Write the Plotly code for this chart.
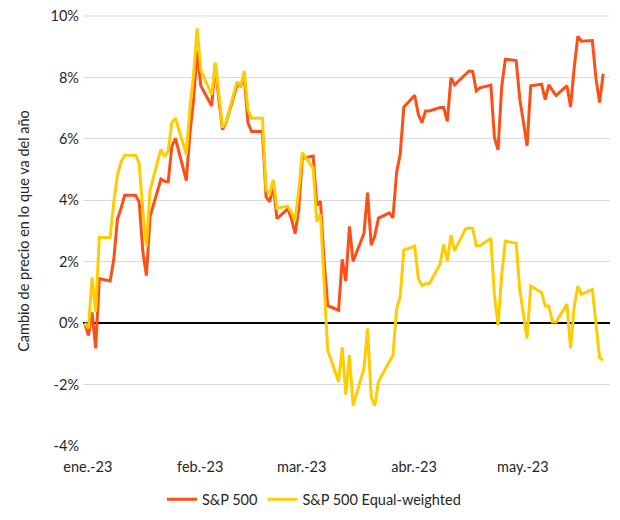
import pandas as pd
import plotly.graph_objects as go

# Weekday dates (holidays carried at previous value in the source series)
dates = pd.bdate_range("2023-01-02", "2023-05-25")

sp500 = [
    # Jan
    0.00, -0.40, 0.35, -0.82, 1.45, 1.37, 2.08, 3.39, 3.74, 4.16, 4.16,
    3.94, 2.33, 1.55, 3.47, 4.69, 4.62, 4.60, 5.75, 6.02, 4.64, 6.18,
    # Feb
    7.28, 8.86, 7.73, 7.07, 8.45, 7.25, 6.30, 6.54, 7.75, 7.72, 8.02,
    6.53, 6.24, 6.24, 4.11, 3.95, 4.50, 3.40, 3.72, 3.40,
    # Mar
    2.91, 3.69, 5.37, 5.44, 3.83, 3.97, 2.05, 0.57, 0.42, 2.08, 1.37,
    3.15, 2.01, 2.92, 4.25, 2.54, 2.84, 3.42, 3.59, 3.43, 4.90, 5.50, 7.03,
    # Apr
    7.42, 6.80, 6.53, 6.91, 6.91, 7.02, 7.02, 6.57, 7.99, 7.76, 8.12,
    8.21, 8.20, 7.56, 7.66, 7.75, 6.04, 5.64, 7.70, 8.59,
    # May
    8.55, 7.29, 6.54, 5.77, 7.73, 7.78, 7.28, 7.76, 7.58, 7.41, 7.73,
    7.04, 8.31, 9.34, 9.18, 9.20, 7.97, 7.18, 8.12,
]

sp500_ew = [
    # Jan
    0.00, -0.17, 1.48, 0.37, 2.79, 2.79, 3.95, 4.82, 5.25, 5.47, 5.47,
    5.20, 3.68, 2.49, 4.33, 5.66, 5.42, 5.61, 6.52, 6.67, 5.50, 7.00,
    # Feb
    8.10, 9.60, 8.24, 7.43, 8.48, 7.40, 6.37, 6.56, 7.86, 7.72, 8.21,
    6.94, 6.67, 6.67, 4.33, 4.22, 4.66, 3.74, 3.81, 3.60,
    # Mar
    3.35, 4.30, 5.55, 5.04, 3.30, 3.55, 1.40, -0.88, -1.91, -0.79, -2.33,
    -1.04, -2.68, -1.48, -0.17, -2.40, -2.69, -1.91, -1.25, -1.06, 0.45, 0.86, 2.38,
    # Apr
    2.51, 1.46, 1.22, 1.28, 1.28, 1.92, 2.57, 2.03, 2.87, 2.36, 3.06,
    3.10, 3.08, 2.52, 2.52, 2.76, 0.91, -0.07, 1.56, 2.67,
    # May
    2.60, 1.07, 0.30, -0.50, 1.21, 1.00, 0.56, 0.56, 0.04, 0.04, 0.62,
    -0.82, 0.53, 1.21, 0.94, 1.10, 0.00, -1.13, -1.20,
]

series_names = ["S&P 500", "S&P 500 Equal-weighted"]
series_colors = ["#FF4F17", "#FFCC00"]

y_ticks = [-4, -2, 0, 2, 4, 6, 8, 10]
y_tick_labels = ["-4%", "-2%", "0%", "2%", "4%", "6%", "8%", "10%"]
x_ticks = ["2023-01-02", "2023-02-02", "2023-03-02", "2023-04-02", "2023-05-02"]
x_tick_labels = ["ene.-23", "feb.-23", "mar.-23", "abr.-23", "may.-23"]

FONT = "Lato"
TXT = "#262626"
FS = 14.5
GRID = "#D9D9D9"

fig = go.Figure()
for name, vals, col in zip(series_names, [sp500, sp500_ew], series_colors):
    fig.add_trace(go.Scatter(
        x=dates, y=vals, name=name, mode="lines",
        line=dict(color=col, width=3),
    ))

# top gridline on the plot edge (not clipped when referenced to paper)
fig.add_shape(type="line", xref="paper", yref="paper", x0=0, x1=1, y0=1, y1=1,
              line=dict(color=GRID, width=1), layer="below")

# the page body adds an 8px margin, so the figure is 8px smaller
fig.update_layout(
    width=612, height=512,
    margin=dict(l=75, r=10, t=8, b=74, autoexpand=False),
    paper_bgcolor="white", plot_bgcolor="white",
    font=dict(family=FONT, size=FS, color=TXT),
    showlegend=True,
    legend=dict(orientation="h", xref="container", x=0.5, xanchor="center",
                y=-0.124, yanchor="middle",
                font=dict(family=FONT, size=FS, color=TXT), itemwidth=30),
)
fig.update_xaxes(
    range=["2023-01-01 12:00", "2023-05-26 21:00"],
    tickvals=x_ticks, ticktext=x_tick_labels,
    showgrid=False, showline=False, zeroline=False, automargin=False,
    ticks="", ticklabelshift=3, ticklabelstandoff=10,
    tickfont=dict(family=FONT, size=FS, color=TXT),
)
fig.update_yaxes(
    range=[-4, 10], tickvals=y_ticks, ticktext=y_tick_labels,
    showgrid=True, gridcolor=GRID, gridwidth=1, automargin=False,
    zeroline=True, zerolinecolor="black", zerolinewidth=2,
    showline=False, ticks="", ticklabelstandoff=3, ticklabeloverflow="allow",
    tickfont=dict(family=FONT, size=FS, color=TXT),
    title=dict(text="Cambio de precio en lo que va del año",
               font=dict(family=FONT, size=FS, color=TXT), standoff=17),
)

fig.write_html("out.html")
